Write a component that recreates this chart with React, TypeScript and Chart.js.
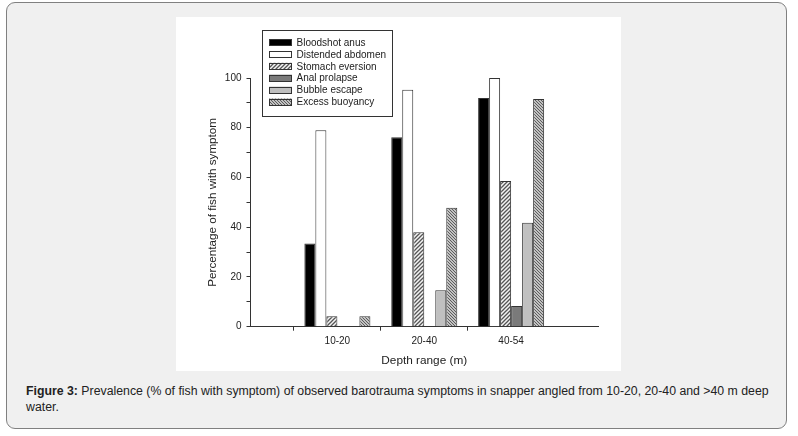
import React, { useEffect, useRef } from "react";
import { Chart, registerables } from "chart.js";

Chart.register(...registerables);

const categories = ["", "10-20", "20-40", "40-54", ""];
const seriesLabels = [
  "Bloodshot anus",
  "Distended abdomen",
  "Stomach eversion",
  "Anal prolapse",
  "Bubble escape",
  "Excess buoyancy",
];
const bloodshotAnus = [33.5, 76.2, 92];
const distendedAbdomen = [79, 95.3, 100];
const stomachEversion = [4.2, 38, 58.6];
const analProlapse = [0, 0, 8.3];
const bubbleEscape = [0, 14.7, 41.8];
const excessBuoyancy = [4.2, 47.8, 91.6];
const yTicks = [0, 20, 40, 60, 80, 100];

const FONT = "'Liberation Sans', Arial, sans-serif";

function makePattern(dir: "fwd" | "back", bg: string, fg: string, size: number, lw: number) {
  const c = document.createElement("canvas");
  c.width = size;
  c.height = size;
  const g = c.getContext("2d")!;
  g.fillStyle = bg;
  g.fillRect(0, 0, size, size);
  g.strokeStyle = fg;
  g.lineWidth = lw;
  g.beginPath();
  if (dir === "fwd") {
    g.moveTo(-1, size + 1);
    g.lineTo(size + 1, -1);
    g.moveTo(-1, 1);
    g.lineTo(1, -1);
    g.moveTo(size - 1, size + 1);
    g.lineTo(size + 1, size - 1);
  } else {
    g.moveTo(-1, -1);
    g.lineTo(size + 1, size + 1);
    g.moveTo(size - 1, -1);
    g.lineTo(size + 1, 1);
    g.moveTo(-1, size - 1);
    g.lineTo(1, size + 1);
  }
  g.stroke();
  return g.createPattern(c, "repeat")!;
}

const legendPlugin = {
  id: "boxLegend",
  afterDraw(chart: any) {
    const ctx = chart.ctx;
    const x0 = 86.5, y0 = 13.5, w = 130, h = 86;
    ctx.save();
    ctx.fillStyle = "#ffffff";
    ctx.fillRect(x0, y0, w, h);
    ctx.strokeStyle = "#333";
    ctx.lineWidth = 1;
    ctx.strokeRect(x0, y0, w, h);
    ctx.font = `10px ${FONT}`;
    ctx.textBaseline = "middle";
    chart.data.datasets.forEach((ds: any, i: number) => {
      const cy = 25.5 + i * 11.9;
      ctx.fillStyle = ds.backgroundColor;
      ctx.fillRect(93, cy - 3.5, 23, 7);
      ctx.strokeStyle = "#333";
      ctx.strokeRect(93.5, Math.round(cy - 3.5) + 0.5, 22, 6);
      ctx.fillStyle = "#222";
      ctx.fillText(ds.label, 120.5, cy + 0.5);
    });
    ctx.restore();
  },
};

export default function App() {
  const ref = useRef<HTMLCanvasElement>(null);

  useEffect(() => {
    document.body.style.margin = "0";
    const canvas = ref.current!;
    const pad = (a: number[]) => [null, ...a, null];
    const stomachPat = makePattern("fwd", "#f4f4f4", "#555", 4, 1.3);
    const buoyPat = makePattern("back", "#eeeeee", "#555", 3, 1.1);
    const values = [bloodshotAnus, distendedAbdomen, stomachEversion, analProlapse, bubbleEscape, excessBuoyancy];
    const fills: any[] = ["#000000", "#ffffff", stomachPat, "#7a7a7a", "#c0c0c0", buoyPat];
    const chart = new Chart(canvas, {
      type: "bar",
      data: {
        labels: categories,
        datasets: values.map((v, i) => ({
          label: seriesLabels[i],
          data: pad(v),
          backgroundColor: fills[i],
          borderColor: "#333",
          borderWidth: 1,
          categoryPercentage: 0.76,
          barPercentage: 1,
        })),
      },
      options: {
        animation: false,
        responsive: false,
        devicePixelRatio: 1,
        layout: { padding: { top: 61, right: 23, bottom: 0, left: 0 } },
        plugins: { legend: { display: false }, tooltip: { enabled: false } },
        scales: {
          x: {
            offset: false,
            grid: {
              display: true,
              drawOnChartArea: false,
              drawTicks: true,
              tickLength: 4,
              color: (c: any) => (c.index === 0 || c.index === 4 ? "rgba(0,0,0,0)" : "#333"),
            },
            border: { display: true, color: "#333", width: 1 },
            ticks: { padding: 5, color: "#222", font: { family: FONT, size: 10 }, maxRotation: 0, autoSkip: false },
            title: {
              display: true,
              text: "Depth range (m)",
              color: "#222",
              font: { family: FONT, size: 11.8 },
              padding: { top: 0, bottom: 3 },
            },
            afterFit: (s: any) => {
              s.height = 44.3;
            },
          },
          y: {
            min: 0,
            max: 100,
            grid: {
              display: true,
              drawOnChartArea: false,
              drawTicks: true,
              tickLength: 4,
              color: "#333",
            },
            border: { display: true, color: "#333", width: 1 },
            afterBuildTicks: (s: any) => {
              const t: any[] = [];
              for (let v = 0; v <= 100; v += 10) t.push({ value: v });
              s.ticks = t;
            },
            ticks: {
              padding: 5,
              color: "#222",
              font: { family: FONT, size: 10 },
              callback: (v: any) => (yTicks.includes(Number(v)) ? String(v) : ""),
            },
            title: {
              display: true,
              text: "Percentage of fish with symptom",
              color: "#222",
              font: { family: FONT, size: 11.7 },
              padding: { top: 30, bottom: 0 },
            },
            afterFit: (s: any) => {
              s.width = 74.5;
            },
          },
        },
      },
      plugins: [legendPlugin],
    });
    return () => chart.destroy();
  }, []);

  return (
    <div style={{ position: "relative", width: 798, height: 436, background: "#ffffff", overflow: "hidden" }}>
      <div
        style={{
          position: "absolute",
          left: 6,
          top: 2,
          width: 779,
          height: 425,
          border: "1.5px solid #808080",
          borderRadius: 9,
          background: "#f0f0f0",
        }}
      />
      <div style={{ position: "absolute", left: 176, top: 17, width: 445, height: 354, background: "#fff" }}>
        <canvas ref={ref} width={445} height={354} style={{ display: "block", width: 445, height: 354 }} />
      </div>
      <div
        style={{
          position: "absolute",
          left: 26,
          top: 383,
          width: 756,
          fontFamily: FONT,
          fontSize: 12.3,
          lineHeight: "16px",
          color: "#222",
        }}
      >
        <b>Figure 3:</b> Prevalence (% of fish with symptom) of observed barotrauma symptoms in snapper angled from 10-20,
        20-40 and &gt;40 m deep water.
      </div>
    </div>
  );
}
